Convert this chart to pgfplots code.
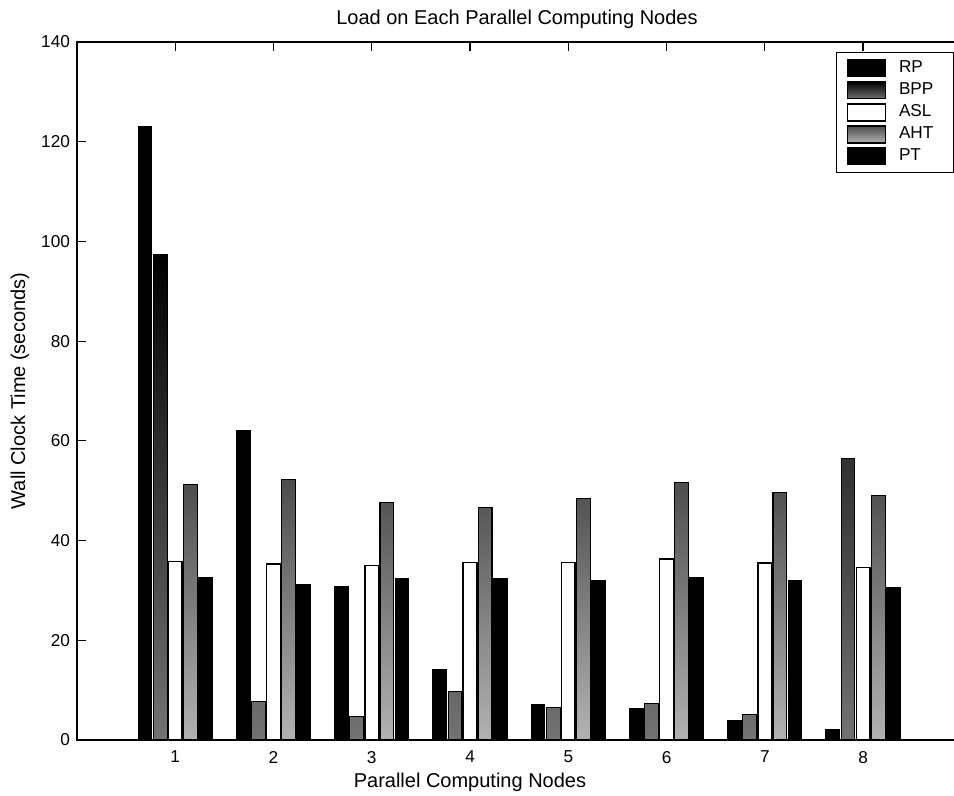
\documentclass[border=0pt]{standalone}
\usepackage{pgfplots}
\pgfplotsset{compat=1.18}
\usepackage{fontspec}
\setmainfont{Liberation Sans}
\newcommand{\legtxt}[1]{\makebox[27pt][l]{\hspace*{5.5pt}#1}}
\begin{document}
\begin{tikzpicture}
\begin{axis}[
  at={(0,0)}, anchor=south west,
  scale only axis,
  width=452pt, height=349pt,
  ybar, bar width=0.14,
  xmin=0, xmax=9.2, ymin=0, ymax=140,
  xtick={1,2,3,4,5,6,7,8},
  ytick={0,20,40,60,80,100,120,140},
  tick align=inside, tick pos=both,
  major tick length=4.5pt,
  axis line style={line width=0.7pt},
  every tick/.style={black, line width=0.6pt},
  /pgf/number format/assume math mode=true,
  tick label style={font=\fontsize{8.6}{10}\selectfont},
  xticklabel style={yshift=-2pt},
  label style={font=\fontsize{8.6}{10}\selectfont},
  title style={font=\fontsize{8.6}{10}\selectfont},
  title={Load on Each Parallel Computing Nodes},
  every axis title/.style={at={(axis description cs:0.4867,1.033)}, anchor=center},
  xlabel={Parallel Computing Nodes},
  every axis x label/.style={at={(axis description cs:0.4347,-0.060)}, anchor=center},
  ylabel={Wall Clock Time (seconds)},
  every axis y label/.style={at={(axis description cs:-0.0631,0.5)}, anchor=center, rotate=90},
  legend image code/.code={\draw[#1] (0pt,-4.2pt) rectangle (19pt,4.3pt);},
  legend style={at={(axis description cs:0.8396,0.9857)}, anchor=north west,
    draw=black, line width=0.6pt, font=\fontsize{8.6}{10}\selectfont,
    inner xsep=5pt, inner ysep=3pt, row sep=1pt,
    nodes={inner sep=1pt, text height=6.2pt, text depth=1.8pt}},
  legend cell align=left,
]
\addplot[bar shift=-0.308, fill=black, draw=black, line width=0.5pt]
  coordinates {(1,123) (2,62) (3,30.8) (4,14.2) (5,7.1) (6,6.4) (7,3.9) (8,2.1)};
\addplot[bar shift=-0.154, top color=black, bottom color=black!55, draw=black, line width=0.5pt]
  coordinates {(1,97.3) (2,7.8) (3,4.8) (4,9.7) (5,6.6) (6,7.3) (7,5.1) (8,56.5)};
\addplot[bar shift=0, fill=white, draw=black, line width=0.7pt]
  coordinates {(1,35.8) (2,35.3) (3,35.0) (4,35.6) (5,35.6) (6,36.3) (7,35.5) (8,34.6)};
\addplot[bar shift=0.154, top color=black!70, bottom color=black!30, draw=black, line width=0.6pt]
  coordinates {(1,51.3) (2,52.3) (3,47.7) (4,46.6) (5,48.5) (6,51.6) (7,49.6) (8,49.0)};
\addplot[bar shift=0.308, fill=black, draw=black, line width=0.5pt]
  coordinates {(1,32.5) (2,31.2) (3,32.3) (4,32.3) (5,31.9) (6,32.6) (7,31.9) (8,30.6)};
\legend{\legtxt{RP},\legtxt{BPP},\legtxt{ASL},\legtxt{AHT},\legtxt{PT}}
\end{axis}
\pgfresetboundingbox
\useasboundingbox (-38.5pt,-28pt) rectangle (438.5pt,370pt);
\end{tikzpicture}
\end{document}
